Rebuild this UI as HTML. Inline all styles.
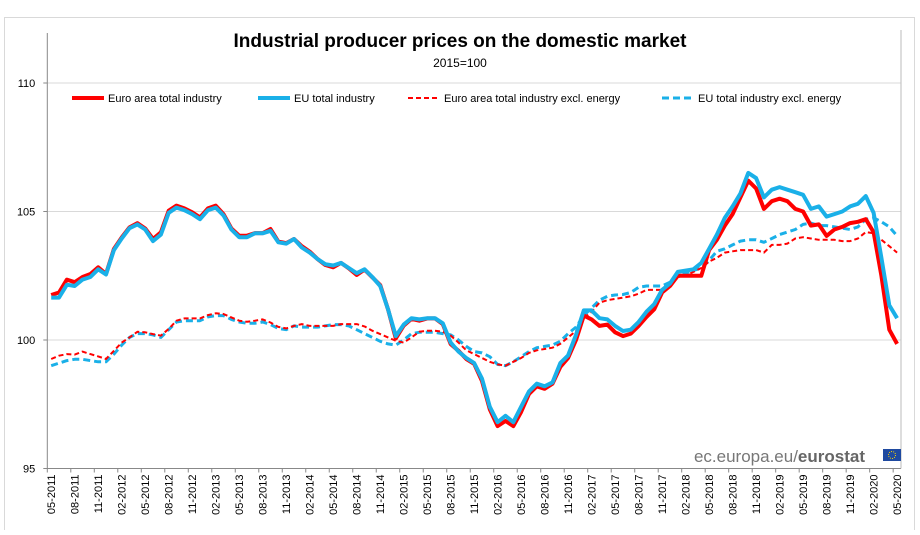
<!DOCTYPE html>
<html><head><meta charset="utf-8"><style>
body{margin:0;background:#fff;font-family:"Liberation Sans",Arial,sans-serif}
</style></head><body>
<svg id="c" width="920" height="530" xmlns="http://www.w3.org/2000/svg">
<rect width="920" height="530" fill="#fff"/>
<rect x="4.5" y="17.5" width="910" height="515" fill="none" stroke="#d9d9d9"/>
<text x="460" y="47" text-anchor="middle" font-size="19" font-weight="bold" fill="#000">Industrial producer prices on the domestic market</text>
<text x="460" y="67" text-anchor="middle" font-size="12" fill="#000">2015=100</text>
<g id="grid"></g>
<g id="yax"></g>
<g id="xax"></g>
<g id="series"></g>
<g font-size="11">
 <g><line x1="72" y1="98" x2="104" y2="98" stroke="#ff0000" stroke-width="4"/><text x="108" y="102">Euro area total industry</text></g>
 <g><line x1="258" y1="98" x2="290" y2="98" stroke="#1ab0e8" stroke-width="4"/><text x="294" y="102">EU total industry</text></g>
 <g><line x1="408" y1="98" x2="440" y2="98" stroke="#ff0000" stroke-width="2" stroke-dasharray="5,3"/><text x="444" y="102">Euro area total industry excl. energy</text></g>
 <g><line x1="662" y1="98" x2="694" y2="98" stroke="#1ab0e8" stroke-width="3" stroke-dasharray="7,4"/><text x="698" y="102">EU total industry excl. energy</text></g>
</g>
<g>
 <text x="865" y="462" text-anchor="end" font-size="17" fill="#777"><tspan>ec.europa.eu/</tspan><tspan font-weight="bold" fill="#666">eurostat</tspan></text>
 <rect x="883" y="449" width="18" height="12" fill="#1f4aa0"/>
 <circle cx="892" cy="455" r="3.5" fill="none" stroke="#ffd700" stroke-width="1" stroke-dasharray="1,1.2"/>
</g>
</svg>
<script>
const yTicks=[95,100,105,110];
const euroTotal=[101.75,101.85,102.35,102.25,102.45,102.57,102.83,102.57,103.54,103.99,104.38,104.55,104.34,103.93,104.19,105.03,105.23,105.12,104.97,104.77,105.12,105.23,104.9,104.34,104.06,104.06,104.16,104.16,104.32,103.83,103.77,103.93,103.65,103.44,103.15,102.92,102.83,103.0,102.79,102.53,102.74,102.44,102.14,101.2,100.06,100.56,100.82,100.75,100.84,100.84,100.62,99.84,99.58,99.26,99.07,98.4,97.3,96.65,96.85,96.65,97.2,97.9,98.2,98.1,98.3,98.95,99.3,100.0,100.95,100.8,100.55,100.6,100.3,100.15,100.25,100.55,100.9,101.2,101.85,102.1,102.5,102.5,102.5,102.5,103.5,103.9,104.45,104.9,105.55,106.2,105.9,105.1,105.4,105.5,105.4,105.1,105.0,104.45,104.5,104.05,104.3,104.4,104.55,104.6,104.7,104.2,102.5,100.4,99.85];
const euTotal=[101.65,101.65,102.15,102.1,102.35,102.45,102.75,102.55,103.5,103.95,104.35,104.5,104.3,103.85,104.1,104.95,105.15,105.05,104.9,104.7,105.05,105.15,104.85,104.3,104.0,104.0,104.15,104.15,104.25,103.8,103.75,103.93,103.6,103.4,103.15,102.95,102.9,103.0,102.8,102.6,102.75,102.45,102.1,101.2,100.15,100.6,100.85,100.8,100.85,100.85,100.65,99.9,99.55,99.3,99.1,98.5,97.4,96.8,97.05,96.8,97.4,98.0,98.3,98.2,98.35,99.1,99.4,100.2,101.15,101.15,100.85,100.8,100.55,100.35,100.4,100.7,101.1,101.4,101.95,102.2,102.65,102.7,102.75,103.0,103.55,104.1,104.75,105.2,105.7,106.5,106.3,105.55,105.85,105.95,105.85,105.75,105.65,105.1,105.2,104.8,104.9,105.0,105.2,105.3,105.6,104.95,103.2,101.35,100.85];
const euroExcl=[99.26,99.39,99.45,99.43,99.55,99.45,99.36,99.26,99.58,99.9,100.1,100.32,100.3,100.23,100.17,100.43,100.75,100.84,100.84,100.84,100.97,101.04,101.01,100.88,100.75,100.71,100.75,100.8,100.68,100.51,100.45,100.55,100.62,100.55,100.55,100.55,100.55,100.62,100.62,100.62,100.53,100.36,100.23,100.1,99.97,99.9,100.1,100.32,100.36,100.36,100.32,100.17,99.9,99.6,99.45,99.3,99.15,99.05,99.0,99.15,99.3,99.5,99.6,99.65,99.7,99.85,100.1,100.35,100.85,101.1,101.45,101.55,101.6,101.65,101.7,101.8,101.95,101.95,101.95,102.1,102.45,102.5,102.65,102.8,103.05,103.2,103.4,103.45,103.5,103.5,103.5,103.4,103.7,103.7,103.75,103.95,104.0,103.95,103.9,103.9,103.9,103.85,103.85,103.95,104.2,104.15,103.9,103.65,103.4];
const euExcl=[99.0,99.1,99.2,99.25,99.25,99.2,99.15,99.15,99.45,99.8,100.1,100.25,100.25,100.2,100.1,100.4,100.7,100.75,100.75,100.75,100.9,100.95,100.95,100.8,100.7,100.65,100.65,100.7,100.6,100.45,100.4,100.55,100.5,100.5,100.5,100.55,100.6,100.6,100.55,100.4,100.25,100.1,99.95,99.85,99.8,100.0,100.25,100.3,100.3,100.3,100.25,100.2,100.0,99.75,99.55,99.5,99.35,99.05,99.0,99.15,99.35,99.55,99.7,99.75,99.8,99.95,100.25,100.5,100.95,101.25,101.55,101.7,101.75,101.77,101.85,102.05,102.1,102.1,102.1,102.25,102.5,102.6,102.7,102.8,103.1,103.45,103.55,103.7,103.85,103.9,103.9,103.8,103.95,104.1,104.2,104.3,104.5,104.55,104.45,104.45,104.4,104.35,104.3,104.4,104.7,104.75,104.6,104.4,104.05];
const months=[];
for(let i=0;i<109;i++){const m=(4+i)%12+1,y=2011+Math.floor((4+i)/12);months.push((m<10?'0':'')+m+'-'+y);}

const NS='http://www.w3.org/2000/svg';
const X0=47.3,X1=901,Y0=468.5,Y1=83;
const n=months.length, step=(X1-X0)/n;
const xs=i=>X0+step*(i+0.5);
const ys=v=>Y0-(v-95)/(110-95)*(Y0-Y1);
function mk(tag,at,parent){const e=document.createElementNS(NS,tag);for(const k in at)e.setAttribute(k,at[k]);parent.appendChild(e);return e;}
const grid=document.getElementById('grid'),yax=document.getElementById('yax'),xax=document.getElementById('xax'),ser=document.getElementById('series');
yTicks.forEach(t=>{
 if(t>95){const g=mk('line',{x1:X0,x2:X1,y1:ys(t),y2:ys(t),stroke:'#d9d9d9','stroke-width':1},grid);
 
 }
 const tk=mk('line',{x1:X0-4,x2:X0,y1:ys(t),y2:ys(t),stroke:'#888'},yax);
 const lb=mk('text',{x:X0-12,y:ys(t)+4,'text-anchor':'end','font-size':11,fill:'#000'},yax);
 lb.textContent=t;
 
 
});
mk('line',{x1:X0,x2:X0,y1:33,y2:Y0,stroke:'#888'},yax);
mk('line',{x1:X0,x2:X1,y1:Y0,y2:Y0,stroke:'#888'},xax);
mk('line',{x1:X1,x2:X1,y1:30,y2:Y0,stroke:'#bbb'},xax);
for(let i=0;i<n;i+=3){
 mk('line',{x1:X0+step*i,x2:X0+step*i,y1:Y0,y2:Y0+4,stroke:'#888'},xax);
 const x=xs(i);
 const t=mk('text',{x:0,y:0,'font-size':11,fill:'#000','text-anchor':'end',transform:`translate(${x+4},${Y0+6}) rotate(-90)`},xax);
 t.textContent=months[i];
 
 
}
function line(data,color,w,dash,name){
 const d=data.map((v,i)=>(i?'L':'M')+xs(i).toFixed(1)+','+ys(v).toFixed(1)).join('');
 const p=mk('path',{d:d,fill:'none',stroke:color,'stroke-width':w,'stroke-linejoin':'round'},ser);
 if(dash)p.setAttribute('stroke-dasharray',dash);
 
 
}
line(euExcl,'#1ab0e8',3,'7,4','line-eu-excl-energy');
line(euroExcl,'#ff0000',2,'5,3','line-euro-excl-energy');
line(euroTotal,'#ff0000',4,null,'line-euro-total');
line(euTotal,'#1ab0e8',4,null,'line-eu-total');
</script>
</body></html>
